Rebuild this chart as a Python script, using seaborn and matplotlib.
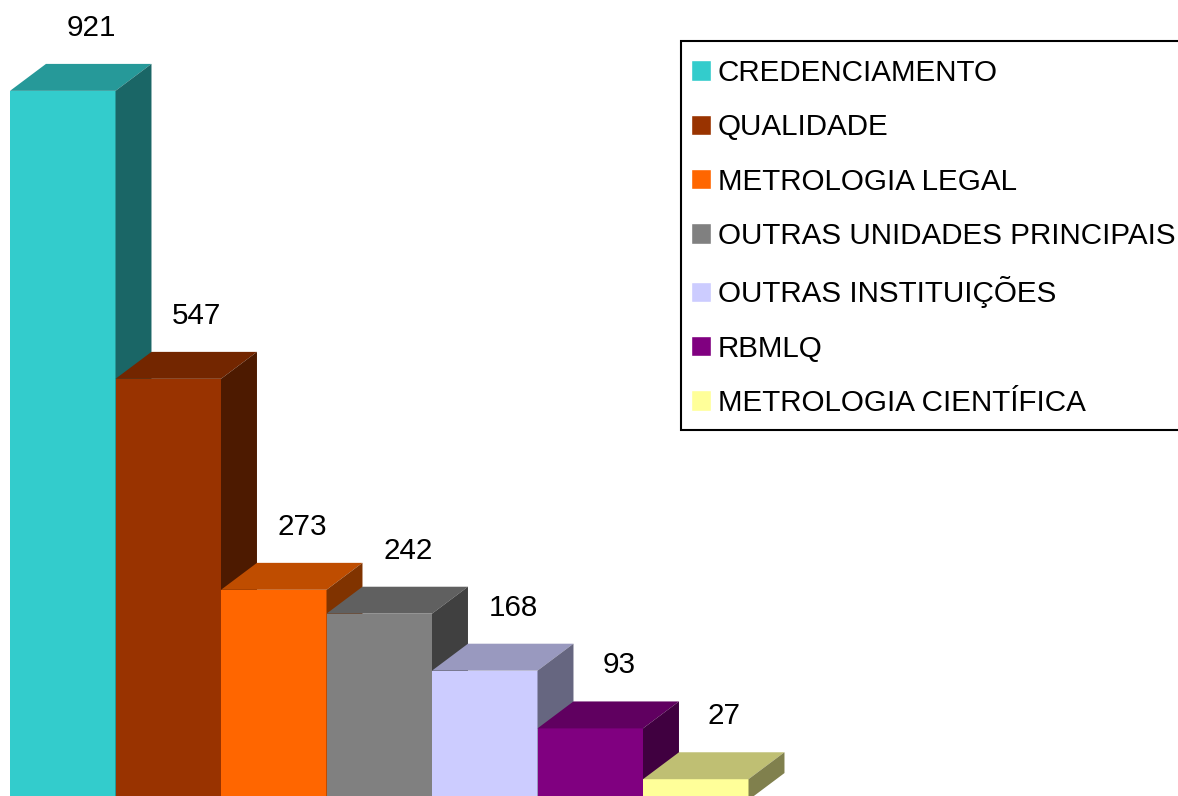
import numpy as np
import pandas as pd
import matplotlib
matplotlib.use('Agg')
import matplotlib.pyplot as plt
import seaborn as sns
from matplotlib.patches import Polygon, Rectangle
from matplotlib.colors import to_rgb

# data
categories = ['CREDENCIAMENTO', 'QUALIDADE', 'METROLOGIA LEGAL',
              'OUTRAS UNIDADES PRINCIPAIS', 'OUTRAS INSTITUIÇÕES',
              'RBMLQ', 'METROLOGIA CIENTÍFICA']
values = [921, 547, 273, 242, 168, 93, 27]
colors = ['#33CCCC', '#993300', '#FF6600', '#808080', '#CCCCFF', '#800080', '#FFFF99']

df = pd.DataFrame({'cat': categories, 'val': values})

sns.set_style('white')
plt.rcParams['font.family'] = ['Liberation Sans', 'DejaVu Sans']
plt.rcParams['text.color'] = 'black'

W, H = 1178, 796
fig = plt.figure(figsize=(W / 100, H / 100), dpi=100)
ax = fig.add_axes([10 / W, 0, 1168 / W, 1])

sns.barplot(data=df, x='cat', y='val', hue='cat', palette=colors,
            width=1.0, dodge=False, saturation=1, ax=ax, legend=True)

# 3d depth in data units
dx = 0.341
dy = 35

for i, p in enumerate(ax.patches[:len(values)]):
    l = p.get_x()
    r = l + p.get_width()
    h = p.get_height()
    base = to_rgb(p.get_facecolor())
    top_c = tuple(c * 0.75 for c in base)
    side_c = tuple(c * 0.5 for c in base)
    p.set_zorder(10 + i)
    p.set_edgecolor('none')
    top = Polygon([(l, h), (l + dx, h + dy), (r + dx, h + dy), (r, h)],
                  closed=True, facecolor=top_c, edgecolor='none', zorder=10 + i)
    side = Polygon([(r, 0), (r + dx, dy), (r + dx, h + dy), (r, h)],
                   closed=True, facecolor=side_c, edgecolor='none', zorder=10 + i)
    ax.add_patch(top)
    ax.add_patch(side)
    ax.text(l + p.get_width() / 2 + 0.27, h + dy + 47, str(values[i]),
            ha='center', va='center', fontsize=21.3, color='black', zorder=30)

ax.set_xlim(-0.5, -0.5 + 1168 / 105.5)
ax.set_ylim(5.2, 1039)
ax.axis('off')

# legend box (runs off the right edge like the original)
box = Rectangle((681 / W, 1 - 430 / H), (1210 - 681) / W, (430 - 41) / H,
                transform=fig.transFigure, facecolor='white',
                edgecolor='black', linewidth=1.5, zorder=40)
fig.patches.append(box)

handles, labels = ax.get_legend_handles_labels()
if ax.get_legend() is not None:
    ax.get_legend().remove()
leg = fig.legend(handles, labels, loc='upper left',
                 bbox_to_anchor=(691 / W, 1 - 59 / H),
                 fontsize=21.3, frameon=False,
                 handlelength=0.68, handleheight=0.68, handletextpad=0.22,
                 labelspacing=0.89, borderpad=0, borderaxespad=0)
for t in leg.get_texts():
    t.set_color('black')
leg.set_zorder(50)

fig.savefig('out.png', dpi=100)
